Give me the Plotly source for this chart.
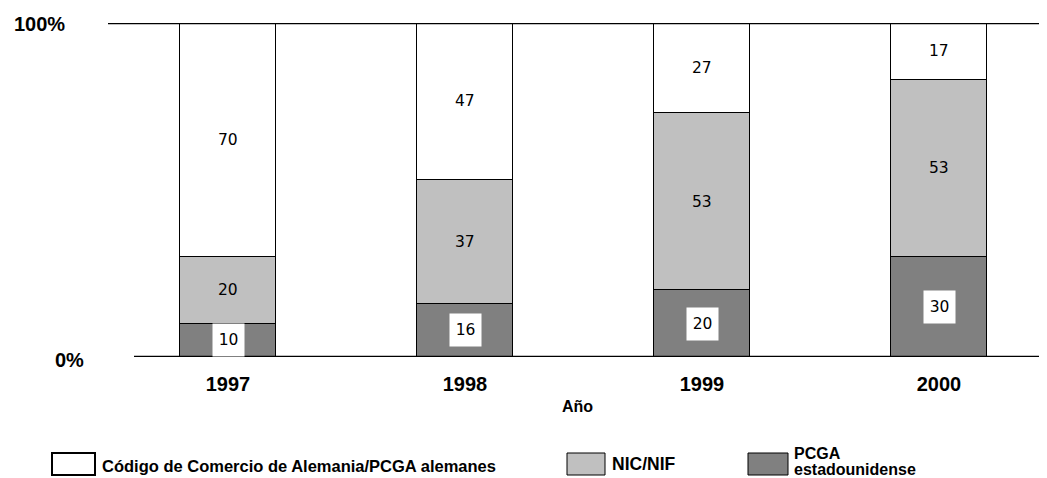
import plotly.graph_objects as go

years = ["1997", "1998", "1999", "2000"]
pcga_us = [10, 16, 20, 30]
nic_nif = [20, 37, 53, 53]
hgb_de = [70, 47, 27, 17]

series_names = ["PCGA estadounidense", "NIC/NIF", "Código de Comercio de Alemania/PCGA alemanes"]
series_colors = ["#808080", "#c0c0c0", "#ffffff"]

# page body has an 8px margin; build the figure in reference pixel coords minus that offset
OFF = 8
W, H = 1047 - OFF, 478 - OFF
L = 108 - OFF
T = 23 - OFF
BOTTOM = 357 - OFF
B = H - BOTTOM
PW = W - L
PH = BOTTOM - T

def px_x(p):
    return (p - OFF - L) / PW

def px_y(p):
    return (BOTTOM - (p - OFF)) / PH

fig = go.Figure()
for name, vals, col in zip(series_names, [pcga_us, nic_nif, hgb_de], series_colors):
    fig.add_trace(go.Bar(
        x=years, y=vals, name=name, width=0.405,
        marker=dict(color=col, line=dict(color="black", width=1)),
        showlegend=False, hoverinfo="skip",
    ))

annotations = []
for i, yr in enumerate(years):
    base = 0
    for k, vals in enumerate([pcga_us, nic_nif, hgb_de]):
        v = vals[i]
        mid = base + v / 2
        a = dict(x=i, y=mid, xref="x", yref="y", text=str(v), showarrow=False,
                 font=dict(family="DejaVu Sans", size=15.5, color="black"))
        if k == 0:
            a.update(bgcolor="white", width=31, height=32, borderpad=0)
        annotations.append(a)
        base += v

# y-axis labels
annotations.append(dict(x=px_x(12), y=px_y(24), xref="paper", yref="paper", text="<b>100%</b>",
                        showarrow=False, xanchor="left", yanchor="middle",
                        font=dict(family="Liberation Sans", size=20, color="black")))
annotations.append(dict(x=px_x(53), y=px_y(360), xref="paper", yref="paper", text="<b>0%</b>",
                        showarrow=False, xanchor="left", yanchor="middle",
                        font=dict(family="Liberation Sans", size=20, color="black")))

# legend
leg_font = dict(family="Liberation Sans", size=16.5, color="black")
shapes = []
legend_boxes = [
    (52, 95, series_colors[2], 2),
    (567, 605, series_colors[1], 1),
    (748, 788, series_colors[0], 1),
]
for x0, x1, col, lw in legend_boxes:
    shapes.append(dict(type="rect", xref="paper", yref="paper",
                       x0=px_x(x0), x1=px_x(x1), y0=px_y(475), y1=px_y(453),
                       fillcolor=col, line=dict(color="black", width=lw)))
legend_texts = [
    ("<b>Código de Comercio de Alemania/PCGA alemanes</b>", 100, 466, 16.5),
    ("<b>NIC/NIF</b>", 610, 464, 17.5),
    ("<b>PCGA</b>", 792, 453, 16),
    ("<b>estadounidense</b>", 792, 469, 16),
]
for txt, tx, ty, fs in legend_texts:
    annotations.append(dict(x=px_x(tx), y=px_y(ty), xref="paper", yref="paper", text=txt,
                            showarrow=False, xanchor="left", yanchor="middle", align="left",
                            font=dict(family="Liberation Sans", size=fs, color="black")))

# frame lines
shapes.append(dict(type="line", xref="paper", yref="y", x0=0, x1=1, y0=100, y1=100,
                   line=dict(color="black", width=2.5)))
shapes.append(dict(type="line", xref="paper", yref="y", x0=px_x(134), x1=1, y0=0, y1=0,
                   line=dict(color="black", width=2.5)))

# category spacing of 237px, first category centre at reference x=228
span = PW / 237.0
r0 = -(228 - OFF - L) / 237.0
fig.update_layout(
    width=W, height=H,
    margin=dict(l=L, r=0, t=T, b=B),
    barmode="stack", bargap=0,
    plot_bgcolor="white", paper_bgcolor="white",
    annotations=annotations, shapes=shapes,
    xaxis=dict(type="category", range=[r0, r0 + span], showgrid=False, zeroline=False,
               showline=False, ticks="", ticklabelstandoff=13,
               tickfont=dict(family="Liberation Sans", size=20, color="black"),
               tickvals=years, ticktext=["<b>%s</b>" % y for y in years],
               title=dict(text="<b>Año</b>", standoff=6,
                          font=dict(family="Liberation Sans", size=16, color="black"))),
    yaxis=dict(range=[0, 100], showgrid=False, zeroline=False, showline=False,
               showticklabels=False, ticks=""),
)

fig.write_html("out.html")
